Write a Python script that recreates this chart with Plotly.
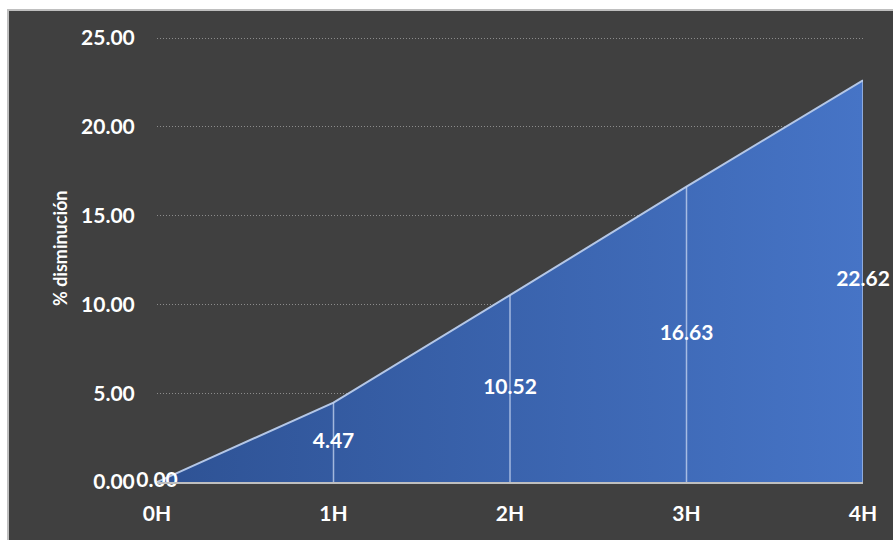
import plotly.graph_objects as go

# Percentage decrease measured at each hour
hours = ["0H", "1H", "2H", "3H", "4H"]
decrease = [0.00, 4.47, 10.52, 16.63, 22.62]
y_ticks = [0, 5, 10, 15, 20, 25]

x_pos = list(range(len(hours)))

# Vertical drop lines from the baseline up to each point
drop_x, drop_y = [], []
for xi, yi in zip(x_pos, decrease):
    drop_x += [xi, xi, None]
    drop_y += [0, yi, None]

W, H = 893, 540
ML, MR, MT, MB = 157, 30, 29, 58
PW, PH = W - ML - MR, H - MT - MB


def px_x(px):
    return (px - ML) / PW


def px_y(py):
    return (H - MB - py) / PH


fig = go.Figure()

# Filled area with a left-to-right blue gradient
fig.add_trace(go.Scatter(
    x=x_pos, y=decrease, mode="lines",
    line=dict(color="#B4C7E7", width=2),
    fill="tozeroy",
    fillgradient=dict(type="horizontal",
                      colorscale=[[0, "#2E5294"], [1, "#4674C6"]]),
    hoverinfo="skip", showlegend=False,
))

fig.add_trace(go.Scatter(
    x=drop_x, y=drop_y, mode="lines",
    line=dict(color="rgba(200,215,240,0.75)", width=1.5),
    hoverinfo="skip", showlegend=False,
))

# Value labels placed at the middle of each column of the area
fig.add_trace(go.Scatter(
    x=x_pos, y=[v / 2 for v in decrease], mode="text",
    text=[f"{v:.2f}" for v in decrease],
    textposition="middle center",
    textfont=dict(family="Lato", size=21, color="white", weight="bold"),
    hoverinfo="skip", showlegend=False, cliponaxis=False,
))

fig.update_layout(
    width=W, height=H,
    margin=dict(l=ML, r=MR, t=MT, b=MB),
    paper_bgcolor="white",
    plot_bgcolor="rgba(0,0,0,0)",
    font=dict(family="Lato", color="white"),
    shapes=[dict(type="rect", xref="paper", yref="paper",
                 x0=px_x(8), x1=px_x(W + 20),
                 y0=px_y(H + 20), y1=px_y(10),
                 fillcolor="#404040", line=dict(color="#BFBFBF", width=2),
                 layer="below")],
    xaxis=dict(
        range=[0, 4], tickvals=x_pos, ticktext=hours,
        showgrid=False, zeroline=False,
        showline=True, linecolor="#BFBFBF", linewidth=2,
        ticks="outside", ticklen=12, tickcolor="rgba(0,0,0,0)",
        tickfont=dict(family="Lato", size=21, color="white", weight="bold"),
    ),
    yaxis=dict(
        range=[0, 25 * PH / 444], tickvals=y_ticks,
        tickformat=".2f",
        showgrid=True, gridcolor="#8C8C8C", griddash="1px,2px", gridwidth=1,
        zeroline=False, showline=False,
        ticks="outside", ticklen=17, tickcolor="rgba(0,0,0,0)",
        tickfont=dict(family="Lato", size=21, color="white", weight="bold"),
    ),
    annotations=[dict(
        text="% disminución", textangle=-90,
        xref="paper", yref="paper",
        x=px_x(60), y=px_y(248),
        xanchor="center", yanchor="middle",
        showarrow=False,
        font=dict(family="Lato", size=18, color="white", weight="bold"),
    )],
)

fig.write_html("out.html")
